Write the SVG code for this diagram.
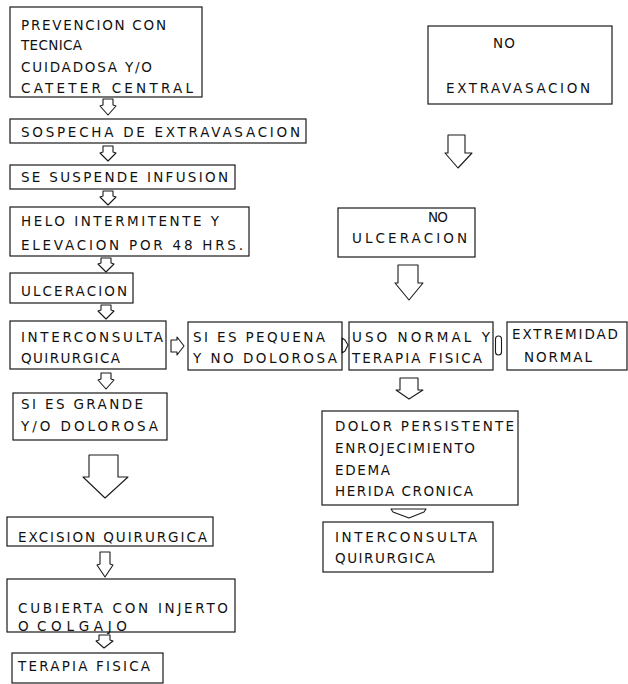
<svg xmlns="http://www.w3.org/2000/svg" width="628" height="684" viewBox="0 0 628 684">
<style>
.b{fill:none;stroke:#1a1a1a;stroke-width:1.2}
.a{fill:#fff;stroke:#1a1a1a;stroke-width:1.1;stroke-linejoin:round}
.t{font-family:"DejaVu Sans","Liberation Sans",Arial,sans-serif;font-size:13.5px;fill:#111}
</style>
<rect width="628" height="684" fill="#fff"/>
<g id="connectors">
<path class="a" d="M103,99 H113 V105 L116,106 L108,115 L100,106 L103,105 Z"/>
<path class="a" d="M103,146 H113 V152 L116,153 L108,161 L100,153 L103,152 Z"/>
<path class="a" d="M103,191 H113 V196 L116,197 L108,205 L100,197 L103,196 Z"/>
<path class="a" d="M101,258 H111 V263 L114,264 L106,272 L98,264 L101,263 Z"/>
<path class="a" d="M101,305 H111 V310 L114,311 L106,319 L98,311 L101,310 Z"/>
<path class="a" d="M101,373 H111 V379 L114,380 L106,389 L98,380 L101,379 Z"/>
<path class="a" d="M89,455 H118 V477 L128,477 L105,498 L83,477 L89,477 Z"/>
<path class="a" d="M100,552 H110 V564 L113,565 L105,577 L97,565 L100,564 Z"/>
<path class="a" d="M99,635 H110 V640 L113,641 L104,648 L96,641 L99,640 Z"/>
<path class="a" d="M171,340 H177 V337 L184,346 L177,355 V352 H171 Z"/>
<path class="a" d="M342,338 L345,340 L348,345 L345,351 L342,353 Z"/>
<rect class="a" x="495.5" y="336" width="6" height="19" rx="3"/>
<path class="a" d="M448,135 H465 V153 H472 L458,168 L445,153 H448 Z"/>
<path class="a" d="M398,265 H418 V283 H423 L409,300 L395,283 H398 Z"/>
<path class="a" d="M400,378 H418 V390 H423 L409,399 L396,390 H400 Z"/>
<path class="a" d="M391,509 H426 L424,512 L409,518 L393,512 Z"/>
</g>
<g id="n1"><rect class="b" x="10" y="7" width="192" height="90"/>
<text class="t" x="21" y="30" textLength="145" lengthAdjust="spacing">PREVENCION CON</text>
<text class="t" x="21" y="50" textLength="61" lengthAdjust="spacing">TECNICA</text>
<text class="t" x="21" y="72" textLength="131" lengthAdjust="spacing">CUIDADOSA Y/O</text>
<text class="t" x="21" y="92.5" textLength="172" lengthAdjust="spacing">CATETER CENTRAL</text></g>
<g id="n2"><rect class="b" x="10" y="119" width="296" height="24"/>
<text class="t" x="21" y="137" textLength="279" lengthAdjust="spacing">SOSPECHA DE EXTRAVASACION</text></g>
<g id="n3"><rect class="b" x="10" y="165" width="225" height="24"/>
<text class="t" x="21" y="181.5" textLength="207" lengthAdjust="spacing">SE SUSPENDE INFUSION</text></g>
<g id="n4"><rect class="b" x="10" y="207" width="239" height="49"/>
<text class="t" x="21" y="226" textLength="198" lengthAdjust="spacing">HELO INTERMITENTE Y</text>
<text class="t" x="21" y="250" textLength="222" lengthAdjust="spacing">ELEVACION POR 48 HRS.</text></g>
<g id="n5"><rect class="b" x="10" y="273" width="123" height="30"/>
<text class="t" x="21" y="296" textLength="106" lengthAdjust="spacing">ULCERACION</text></g>
<g id="n6"><rect class="b" x="10" y="321" width="156" height="48"/>
<text class="t" x="21" y="342" textLength="142" lengthAdjust="spacing">INTERCONSULTA</text>
<text class="t" x="21" y="363" textLength="99" lengthAdjust="spacing">QUIRURGICA</text></g>
<g id="n7"><rect class="b" x="13" y="393" width="154" height="47"/>
<text class="t" x="21" y="408.5" textLength="122" lengthAdjust="spacing">SI ES GRANDE</text>
<text class="t" x="21" y="430.5" textLength="137" lengthAdjust="spacing">Y/O DOLOROSA</text></g>
<g id="n8"><rect class="b" x="7" y="517" width="206" height="29"/>
<text class="t" x="18" y="542" textLength="189" lengthAdjust="spacing">EXCISION QUIRURGICA</text></g>
<g id="n9"><rect class="b" x="7" y="579" width="228" height="53"/>
<text class="t" x="18" y="612.5" textLength="210" lengthAdjust="spacing">CUBIERTA CON INJERTO</text>
<text class="t" x="18" y="630.5">O</text>
<text class="t" x="37" y="630.5" textLength="90" lengthAdjust="spacing">COLGAJO</text></g>
<g id="n10"><rect class="b" x="12" y="653" width="151" height="30"/>
<text class="t" x="18" y="670.5" textLength="132" lengthAdjust="spacing">TERAPIA FISICA</text></g>
<g id="n11"><rect class="b" x="188" y="322" width="154" height="48"/>
<text class="t" x="193" y="342" textLength="132" lengthAdjust="spacing">SI ES PEQUENA</text>
<text class="t" x="193" y="363" textLength="144" lengthAdjust="spacing">Y NO DOLOROSA</text></g>
<g id="n12"><rect class="b" x="428" y="26" width="184" height="78"/>
<text class="t" x="493" y="48" textLength="22" lengthAdjust="spacing">NO</text>
<text class="t" x="446" y="93" textLength="144" lengthAdjust="spacing">EXTRAVASACION</text></g>
<g id="n13"><rect class="b" x="338" y="208" width="137" height="49"/>
<text class="t" x="428" y="222" textLength="20" lengthAdjust="spacing">NO</text>
<text class="t" x="352" y="243" textLength="115" lengthAdjust="spacing">ULCERACION</text></g>
<g id="n14"><rect class="b" x="349" y="322" width="144" height="48"/>
<text class="t" x="352" y="342" textLength="138" lengthAdjust="spacing">USO NORMAL Y</text>
<text class="t" x="352" y="363" textLength="130" lengthAdjust="spacing">TERAPIA FISICA</text></g>
<g id="n15"><rect class="b" x="507" y="322" width="120" height="48"/>
<text class="t" x="512" y="339" textLength="106" lengthAdjust="spacing">EXTREMIDAD</text>
<text class="t" x="524" y="362" textLength="68" lengthAdjust="spacing">NORMAL</text></g>
<g id="n16"><rect class="b" x="322" y="411" width="196" height="94"/>
<text class="t" x="335" y="430.5" textLength="179" lengthAdjust="spacing">DOLOR PERSISTENTE</text>
<text class="t" x="335" y="452.5" textLength="140" lengthAdjust="spacing">ENROJECIMIENTO</text>
<text class="t" x="335" y="475" textLength="55" lengthAdjust="spacing">EDEMA</text>
<text class="t" x="335" y="495.5" textLength="138" lengthAdjust="spacing">HERIDA CRONICA</text></g>
<g id="n17"><rect class="b" x="323" y="522" width="170" height="50"/>
<text class="t" x="335" y="542" textLength="142" lengthAdjust="spacing">INTERCONSULTA</text>
<text class="t" x="335" y="562.5" textLength="100" lengthAdjust="spacing">QUIRURGICA</text></g>
</svg>
